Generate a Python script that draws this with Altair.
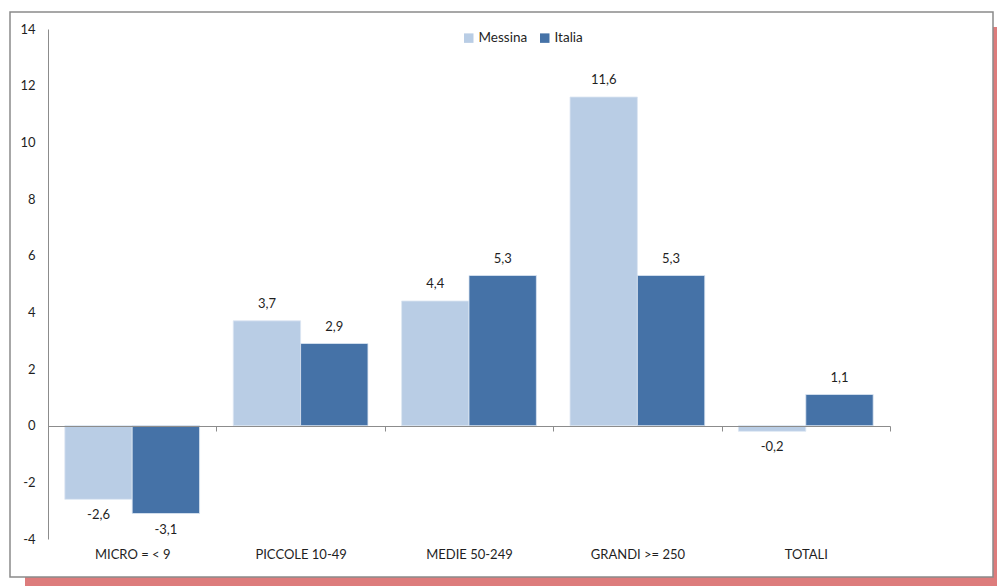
import altair as alt
import pandas as pd

# Variazione percentuale per classe dimensionale d'impresa
categories = ["MICRO = < 9", "PICCOLE 10-49", "MEDIE 50-249", "GRANDI >= 250", "TOTALI"]
series = ["Messina", "Italia"]
messina = [-2.6, 3.7, 4.4, 11.6, -0.2]
italia = [-3.1, 2.9, 5.3, 5.3, 1.1]
y_ticks = [-4, -2, 0, 2, 4, 6, 8, 10, 12, 14]

rows = []
for cat, m, i in zip(categories, messina, italia):
    rows.append({"cat": cat, "serie": "Messina", "val": m})
    rows.append({"cat": cat, "serie": "Italia", "val": i})
df = pd.DataFrame(rows)
df["label"] = df["val"].map(lambda v: f"{v:.1f}".replace(".", ","))

W, H = 842, 510
FONT = "Lato"
TEXT = "#1f1f1f"
FS = 13

x_enc = alt.X(
    "cat:N", sort=categories, title=None,
    scale=alt.Scale(paddingInner=0, paddingOuter=0),
    axis=alt.Axis(
        orient="bottom", offset=-113, domainColor="#8c8c8c", domainWidth=1,
        ticks=True, tickBand="extent", tickSize=5, tickColor="#8c8c8c",
        labelAngle=0, labelPadding=117, labelFont=FONT, labelFontSize=FS,
        labelColor=TEXT, labelBaseline="top", zindex=1,
    ),
)
xoff_scale = alt.Scale(paddingInner=0, paddingOuter=0.25)
y_scale = alt.Scale(domain=[-4, 14], nice=False, zero=False)
y_axis = alt.Axis(
    values=y_ticks, grid=False, ticks=False, domainColor="#8c8c8c", domainWidth=1,
    labelPadding=13, labelFont=FONT, labelFontSize=FS, labelColor=TEXT, title=None,
    labelExpr="'' + datum.value", zindex=1,
)
color = alt.Color(
    "serie:N", sort=series,
    scale=alt.Scale(domain=series, range=["#B9CDE5", "#4572A7"]),
    legend=alt.Legend(
        title=None, orient="none", direction="horizontal", legendX=414, legendY=2,
        symbolType="square", symbolSize=90, symbolStrokeWidth=0,
        labelFont=FONT, labelFontSize=13.5, labelColor=TEXT, columnPadding=10,
        labelOffset=3,
    ),
)

# Frame with drop shadow around the whole chart
frame_src = pd.DataFrame({"k": [0]})
shadow = alt.Chart(frame_src).mark_rect(color="#DD7C7C").encode(
    x=alt.value(-23), x2=alt.value(962), y=alt.value(-2), y2=alt.value(571)
)
frame = alt.Chart(frame_src).mark_rect(
    fill="white", stroke="#8a8a8a", strokeWidth=1.5
).encode(x=alt.value(-38), x2=alt.value(945), y=alt.value(-17), y2=alt.value(548))

base = alt.Chart(df)
bars = base.mark_bar(stroke="#DCE6F2", strokeWidth=0.8).encode(
    x=x_enc,
    xOffset=alt.XOffset("serie:N", sort=series, scale=xoff_scale),
    y=alt.Y("val:Q", scale=y_scale, axis=y_axis),
    color=color,
)
pos_labels = base.transform_filter("datum.val >= 0").mark_text(
    baseline="bottom", dy=-10, font=FONT, fontSize=FS, color=TEXT
).encode(
    x=alt.X("cat:N", sort=categories),
    xOffset=alt.XOffset("serie:N", sort=series),
    y=alt.Y("val:Q"),
    text="label:N",
)
neg_labels = base.transform_filter("datum.val < 0").mark_text(
    baseline="top", dy=10, font=FONT, fontSize=FS, color=TEXT
).encode(
    x=alt.X("cat:N", sort=categories),
    xOffset=alt.XOffset("serie:N", sort=series),
    y=alt.Y("val:Q"),
    text="label:N",
)

chart = (
    alt.layer(shadow, frame, bars, pos_labels, neg_labels)
    .properties(
        width=W, height=H,
        autosize=alt.AutoSizeParams(type="none"),
        padding={"left": 48, "top": 29, "right": 107, "bottom": 47},
        background="white",
    )
    .configure_view(stroke=None)
)

chart.save("out.html", embed_options={"renderer": "svg", "actions": False})
